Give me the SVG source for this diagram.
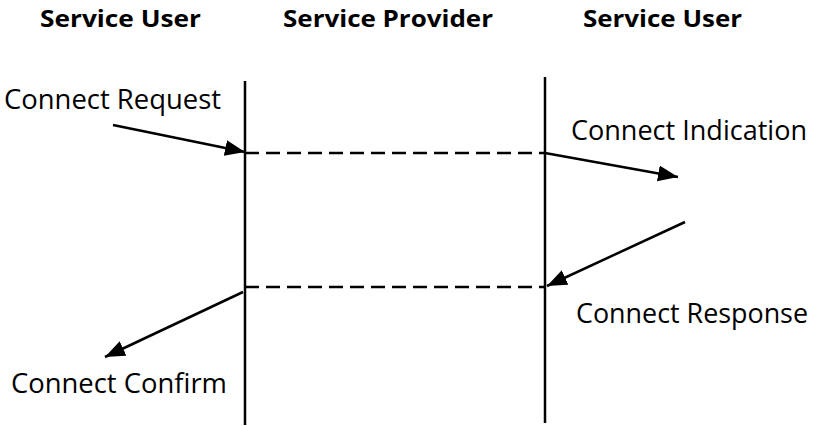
<svg xmlns="http://www.w3.org/2000/svg" width="813" height="426" viewBox="0 0 813 426">
<style>
.hdr{font-family:"Open Sans","Liberation Sans",sans-serif;font-weight:bold;font-size:24px;fill:#000}
.lbl{font-family:"Open Sans","Liberation Sans",sans-serif;font-size:26.5px;fill:#000}
.life{stroke:#000;stroke-width:2.5;fill:none}
.dash{stroke:#000;stroke-width:2.5;stroke-dasharray:14 7;fill:none}
.arr{stroke:#000;stroke-width:2.5;fill:none;marker-end:url(#ah)}
</style>
<defs>
<marker id="ah" markerUnits="userSpaceOnUse" markerWidth="22" markerHeight="18" refX="20" refY="8" orient="auto" viewBox="0 0 22 18">
<path d="M0,0 L20,8 L0,16 Z" fill="#000"/>
</marker>
</defs>
<rect width="813" height="426" fill="#fff"/>
<g id="header-user-left"><text class="hdr" x="40" y="27" textLength="161" lengthAdjust="spacingAndGlyphs">Service User</text></g>
<g id="header-provider"><text class="hdr" x="283" y="27" textLength="210" lengthAdjust="spacingAndGlyphs">Service Provider</text></g>
<g id="header-user-right"><text class="hdr" x="583" y="27" textLength="159" lengthAdjust="spacingAndGlyphs">Service User</text></g>
<g id="lifeline-left"><line class="life" x1="245" y1="81" x2="245" y2="425"/></g>
<g id="lifeline-right"><line class="life" x1="545" y1="77" x2="545" y2="423"/></g>
<g id="label-request"><text class="lbl" x="4" y="109" textLength="217" lengthAdjust="spacingAndGlyphs">Connect Request</text></g>
<g id="label-indication"><text class="lbl" x="571" y="140" textLength="236" lengthAdjust="spacingAndGlyphs">Connect Indication</text></g>
<g id="label-response"><text class="lbl" x="576" y="323" textLength="232" lengthAdjust="spacingAndGlyphs">Connect Response</text></g>
<g id="label-confirm"><text class="lbl" x="11" y="393" textLength="216" lengthAdjust="spacingAndGlyphs">Connect Confirm</text></g>
<g id="connectors">
<line class="dash" x1="245" y1="153" x2="545" y2="153"/>
<line class="dash" x1="245" y1="287" x2="545" y2="287"/>
<line class="arr" x1="113" y1="125" x2="245" y2="152"/>
<line class="arr" x1="545" y1="153" x2="678" y2="177"/>
<line class="arr" x1="685" y1="222" x2="547" y2="286"/>
<line class="arr" x1="243" y1="292" x2="105" y2="357"/>
</g>
</svg>
